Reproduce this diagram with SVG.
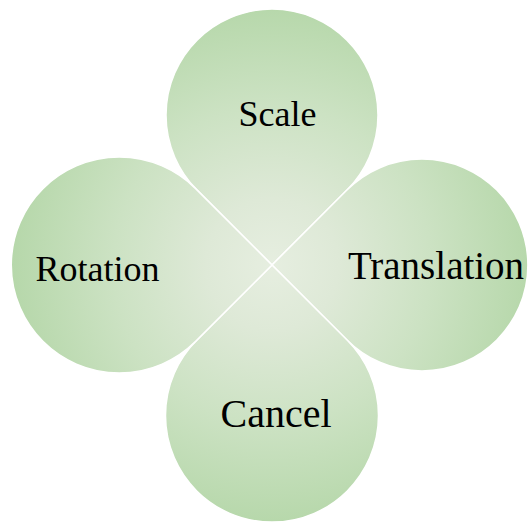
<svg xmlns="http://www.w3.org/2000/svg" width="529" height="524" viewBox="0 0 529 524">
  <defs>
    <radialGradient id="g" gradientUnits="userSpaceOnUse" cx="272" cy="265" r="265">
      <stop offset="0" stop-color="#e6eee0"/>
      <stop offset="0.25" stop-color="#dee9d7"/>
      <stop offset="0.6" stop-color="#cce2c3"/>
      <stop offset="1" stop-color="#b5d7a9"/>
    </radialGradient>
  </defs>
  <style>
    .shape { fill: url(#g); stroke: #ffffff; stroke-width: 1.5; stroke-linejoin: miter; }
    .label { font-family: "Liberation Serif", "Times New Roman", serif; fill: #000000; text-anchor: middle; }
  </style>
  <rect width="529" height="524" fill="#ffffff"/>
  <g id="node-scale">
    <path class="shape" d="M272,265 L197.05,190.05 A106,106 0 1 1 346.95,190.05 Z"/>
    <text class="label" x="277.5" y="126" font-size="36">Scale</text>
  </g>
  <g id="node-translation">
    <path class="shape" d="M272,265 L346.95,190.05 A106,106 0 1 1 346.95,339.95 Z"/>
    <text class="label" x="436" y="279" font-size="39">Translation</text>
  </g>
  <g id="node-cancel">
    <path class="shape" d="M272,265 L347.31,340.31 A106.5,106.5 0 1 1 196.69,340.31 Z"/>
    <text class="label" x="276" y="427" font-size="40">Cancel</text>
  </g>
  <g id="node-rotation">
    <path class="shape" d="M272,265 L195.63,341.37 A108,108 0 1 1 195.63,188.63 Z"/>
    <text class="label" x="97.5" y="281" font-size="36">Rotation</text>
  </g>
  <g id="connectors"></g>
</svg>
